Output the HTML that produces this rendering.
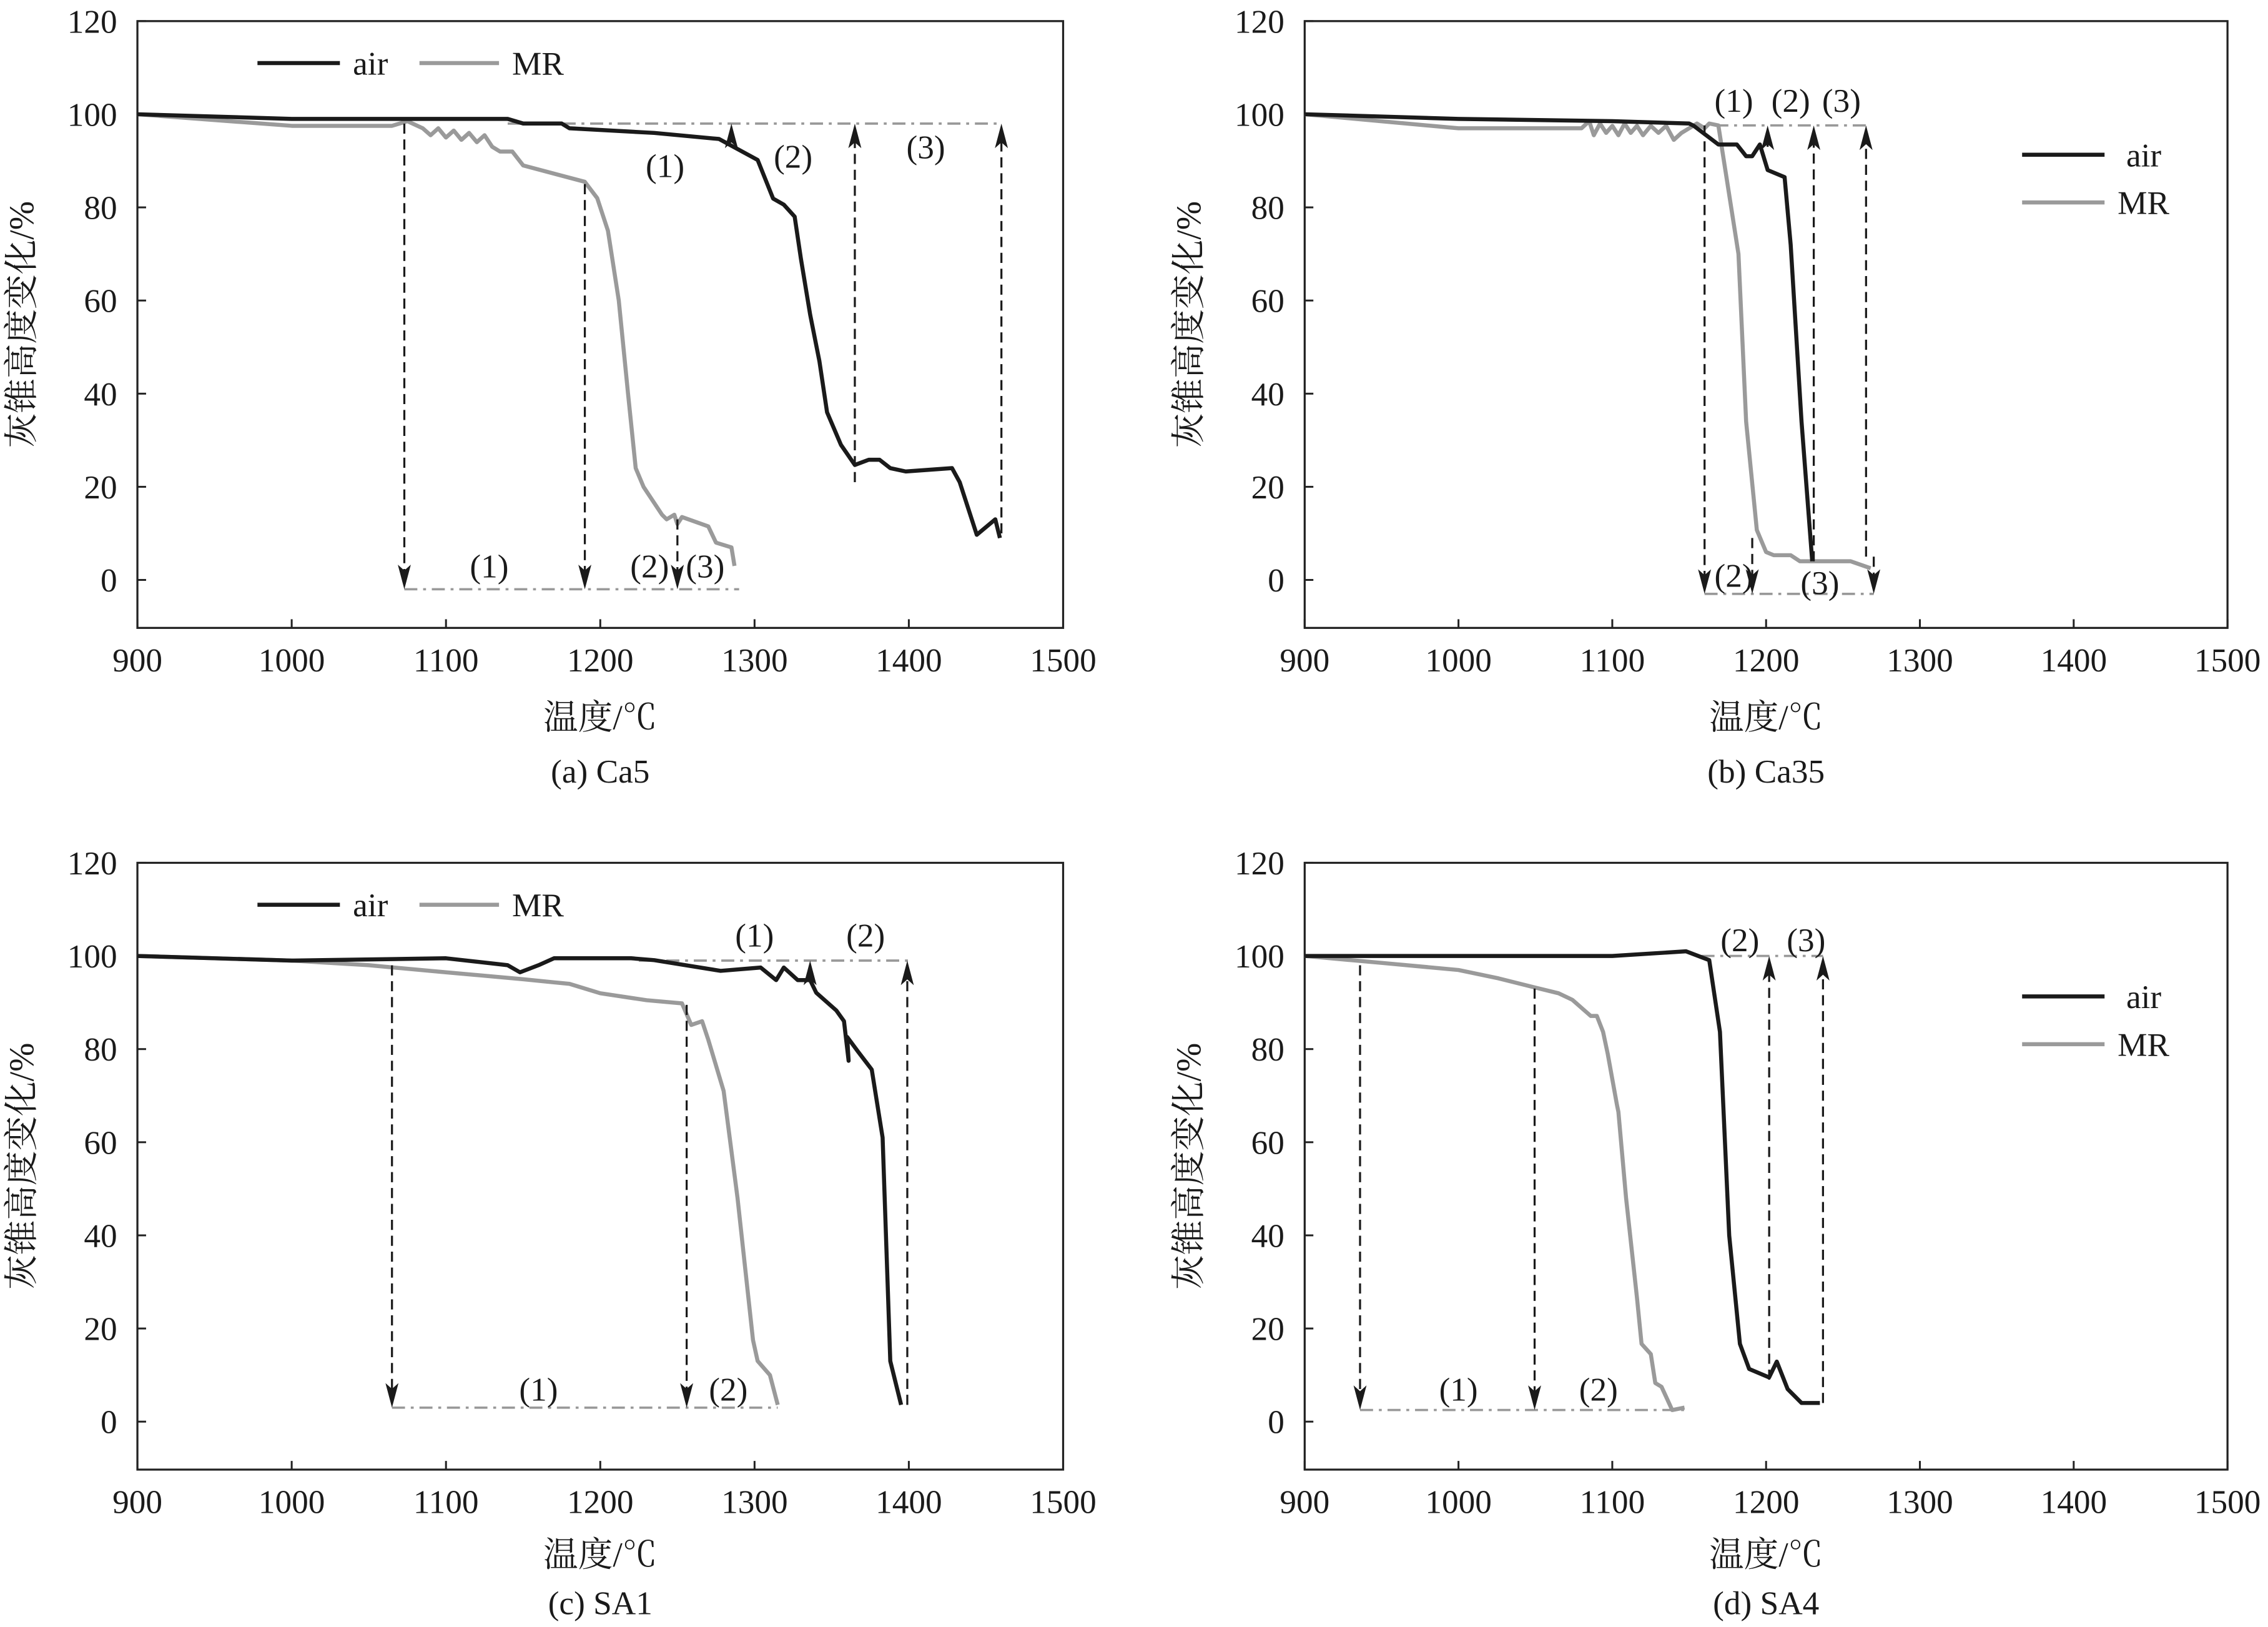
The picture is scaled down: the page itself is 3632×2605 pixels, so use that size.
<!DOCTYPE html>
<html><head><meta charset="utf-8"><style>
html,body{margin:0;padding:0;background:#fff;}
svg{display:block;}
text{font-family:"Liberation Serif","Noto Serif CJK SC","Noto Sans CJK SC",serif;fill:#1a1a1a;}
</style></head><body>
<svg id="fig" xmlns="http://www.w3.org/2000/svg" width="3632" height="2605" viewBox="0 0 1568 1125" preserveAspectRatio="none"></svg>
<script>
// ---- data (°C, % change) ----
const xTicks=[900,1000,1100,1200,1300,1400,1500];
const yTicks=[0,20,40,60,80,100,120];
// (a) Ca5
const aAirT=[900,1000,1140,1150,1175,1180,1235,1277,1302,1312,1319,1326,1330,1336,1342,1347,1356,1365,1374,1381,1388,1398,1428,1433,1444,1456,1459];
const aAirV=[100,99,99,98,98,97,96,94.7,90.2,81.9,80.6,78,69,57,47,36,29,24.7,25.8,25.8,24,23.3,24,21,9.7,13,9];
const aMrT=[900,1000,1065,1075,1085,1090,1095,1100,1105,1110,1115,1120,1125,1130,1135,1143,1150,1190,1198,1205,1212,1218,1223,1228,1240,1243,1248,1250,1253,1270,1275,1285,1287];
const aMrV=[100,97.5,97.5,98.5,97,95.5,97,95,96.5,94.5,96,94,95.5,93,92,92,89,85.5,82,75,60,40,24,20,14,13,14,12,13.5,11.5,8,7,3];
// (b) Ca35
const bAirT=[900,1000,1100,1150,1153,1169,1181,1187,1191,1196,1201,1212,1216,1223,1230];
const bAirV=[100,99,98.5,98,97.5,93.5,93.5,91,91,93.5,88,86.5,72,34,4];
const bMrT=[900,1000,1080,1085,1088,1092,1096,1100,1104,1108,1112,1116,1120,1125,1130,1135,1140,1145,1150,1155,1160,1163,1169,1182,1187,1194,1200,1205,1216,1222,1255,1268];
const bMrV=[100,97,97,98.5,95.5,98,96,97.5,95.5,98,96,97.5,95.5,97.5,96,97.5,94.5,96,97,98,97,98,97.6,70,34,10.7,6,5.3,5.3,4,4,2.5];
// (c) SA1
const cAirT=[900,1000,1100,1140,1148,1160,1170,1220,1235,1278,1304,1314,1319,1328,1336,1340,1353,1358,1361,1360,1367,1376,1383,1388,1395];
const cAirV=[100,99,99.5,98,96.5,98,99.5,99.5,99.1,96.8,97.5,94.8,97.5,94.8,94.8,92.1,88.3,86,77.5,82.6,79.5,75.6,61,13,3.6];
const cMrT=[900,1000,1050,1100,1150,1180,1200,1230,1253,1259,1266,1270,1280,1289,1299,1302,1310,1315];
const cMrV=[100,99,98,96.5,95,94,92,90.5,89.8,85.2,86,82,71,48,17.5,13,10,3.6];
// (d) SA4
const dAirT=[900,1100,1148,1163,1170,1176,1183,1189,1202,1207,1214,1223,1235];
const dAirV=[100,100,101,99.1,83.7,40,16.7,11.3,9.5,12.9,7,4,4];
const dMrT=[900,950,1000,1026,1049,1065,1074,1086,1090,1094,1097,1103,1104,1109,1116,1119,1125,1128,1132,1139,1147];
const dMrV=[100,98.5,97,95.2,93.3,92,90.6,87.1,87.1,83.7,79,68,66.5,48,26.7,16.7,14.5,8.3,7.5,2.5,3];
// annotations: vertical arrows [T, fromV, toV]
const aArrows=[[1285,94,98],[1365,21,98],[1460,10,98],[1073,98,-2],[1190,85,-2],[1250,13,-2]];
const bArrows=[[1201,93,97.6],[1231,4,97.6],[1265,5,97.6],[1160,97.6,-3],[1191,9,-3],[1270,5,-3]];
const cArrows=[[1336,95,99],[1399,3.6,99],[1065,98,3],[1256,89.5,3]];
const dArrows=[[1202,9,100],[1237,4,100],[936,98,2.5],[1049.5,93,2.5]];
// horizontal reference lines [T1,T2,V]
const aHLines=[[1140,1460,98],[1073,1290,-2]];
const bHLines=[[1167,1267,97.6],[1160,1270,-3]];
const cHLines=[[1225,1400,99],[1065,1315,3]];
const dHLines=[[1158,1237,100],[936,1147,2.5]];
// labels [text,T,V]
const aLabels=[["(1)",1242,89],["(2)",1325,91],["(3)",1411,93],["(1)",1128,3],["(2)",1232,3],["(3)",1268,3]];
const bLabels=[["(1)",1179,103],["(2)",1216,103],["(3)",1249,103],["(2)",1179,1],["(3)",1235,-0.5]];
const cLabels=[["(1)",1300,104.5],["(2)",1372,104.5],["(1)",1160,7],["(2)",1283,7]];
const dLabels=[["(2)",1183,103.5],["(3)",1226,103.5],["(1)",1000,7],["(2)",1091,7]];

const NS="http://www.w3.org/2000/svg";
const svg=document.getElementById('fig');
function mk(tag,attrs,parent,txt){const e=document.createElementNS(NS,tag);for(const k in attrs)e.setAttribute(k,attrs[k]);if(txt!==undefined)e.textContent=txt;(parent||svg).appendChild(e);return e;}

const panels=[
 {id:'a',L:95,R:735,y0:401,cap:'(a) Ca5',air:[aAirT,aAirV],mr:[aMrT,aMrV],arr:aArrows,hl:aHLines,lab:aLabels,leg:'top',tOff:70,cOff:107},
 {id:'b',L:902,R:1540,y0:401,cap:'(b) Ca35',air:[bAirT,bAirV],mr:[bMrT,bMrV],arr:bArrows,hl:bHLines,lab:bLabels,leg:'right',legY:[107,140],tOff:70,cOff:107},
 {id:'c',L:95,R:735,y0:983,cap:'(c) SA1',air:[cAirT,cAirV],mr:[cMrT,cMrV],arr:cArrows,hl:cHLines,lab:cLabels,leg:'top',tOff:67,cOff:100},
 {id:'d',L:902,R:1540,y0:983,cap:'(d) SA4',air:[dAirT,dAirV],mr:[dMrT,dMrV],arr:dArrows,hl:dHLines,lab:dLabels,leg:'right',legY:[689,722],tOff:67,cOff:100}
];
const PU=3.22;
panels.forEach(p=>{
  const g=mk('g',{});
  
  
  const xs=t=>p.L+(t-900)*(p.R-p.L)/600;
  const ys=v=>p.y0-v*PU;
  const top=ys(120), bot=ys(-10.3);
  const box=mk('rect',{x:p.L,y:top,width:p.R-p.L,height:bot-top,fill:'none',stroke:'#222','stroke-width':1.4},g);
  
  
  xTicks.forEach(t=>{
    mk('line',{x1:xs(t),x2:xs(t),y1:bot,y2:bot-6,stroke:'#222','stroke-width':1.3},g);
    const tx=mk('text',{x:xs(t),y:bot+30,'text-anchor':'middle','font-size':23},g,String(t));
    
    
  });
  yTicks.forEach(v=>{
    mk('line',{x1:p.L,x2:p.L+6,y1:ys(v),y2:ys(v),stroke:'#222','stroke-width':1.3},g);
    const tx=mk('text',{x:p.L-14,y:ys(v)+8,'text-anchor':'end','font-size':23},g,String(v));
    
    
  });
  const cx=(p.L+p.R)/2;
  const xt=mk('text',{x:cx,y:bot+p.tOff,'text-anchor':'middle','font-size':24},g,'温度/℃');
  
  
  const cp=mk('text',{x:cx,y:bot+p.cOff,'text-anchor':'middle','font-size':23},g,p.cap);
  
  
  const ycx=p.L-72, ycy=(top+bot)/2;
  const yt=mk('text',{x:ycx,y:ycy,'text-anchor':'middle','font-size':24,transform:`rotate(-90 ${ycx} ${ycy})`},g,'灰锥高度变化/%');
  
  
  p.hl.forEach(h=>{
    const l=mk('line',{x1:xs(h[0]),x2:xs(h[1]),y1:ys(h[2]),y2:ys(h[2]),stroke:'#999','stroke-width':1.6,'stroke-dasharray':'9 4 2 4'},g);
    
    
  });
  const curve=(d,col,name)=>{
    const pts=d[0].map((t,i)=>xs(t).toFixed(1)+','+ys(d[1][i]).toFixed(1)).join(' ');
    const pl=mk('polyline',{points:pts,fill:'none',stroke:col,'stroke-width':2.8,'stroke-linejoin':'round'},g);
    
    
  };
  curve(p.mr,'#9a9a9a','mr-curve');
  curve(p.air,'#1a1a1a','air-curve');
  p.arr.forEach(a=>{
    const x=xs(a[0]),y1=ys(a[1]),y2=ys(a[2]);
    const dir=y2<y1?1:-1;
    const l=mk('line',{x1:x,x2:x,y1:y1,y2:y2+dir*10,stroke:'#1a1a1a','stroke-width':1.4,'stroke-dasharray':'7 4'},g);
    
    
    mk('path',{d:`M${x},${y2} L${x-4.5},${y2+dir*17} L${x},${y2+dir*13} L${x+4.5},${y2+dir*17} Z`,fill:'#1a1a1a'},g);
  });
  p.lab.forEach(lb=>{
    const t=mk('text',{x:xs(lb[1]),y:ys(lb[2])+8,'text-anchor':'middle','font-size':23},g,lb[0]);
    
    
  });
  if(p.leg==='top'){
    const ly=top+29;
    const e1=mk('g',{},g);
    
    
    mk('line',{x1:p.L+83,x2:p.L+140,y1:ly,y2:ly,stroke:'#1a1a1a','stroke-width':2.8},e1);
    mk('text',{x:p.L+149,y:ly+8,'font-size':23},e1,'air');
    const e2=mk('g',{},g);
    
    
    mk('line',{x1:p.L+195,x2:p.L+250,y1:ly,y2:ly,stroke:'#9a9a9a','stroke-width':2.8},e2);
    mk('text',{x:p.L+259,y:ly+8,'font-size':23},e2,'MR');
  } else {
    const e1=mk('g',{},g);
    
    
    mk('line',{x1:p.L+496,x2:p.L+553,y1:p.legY[0],y2:p.legY[0],stroke:'#1a1a1a','stroke-width':2.8},e1);
    mk('text',{x:p.L+568,y:p.legY[0]+8,'font-size':23},e1,'air');
    const e2=mk('g',{},g);
    
    
    mk('line',{x1:p.L+496,x2:p.L+553,y1:p.legY[1],y2:p.legY[1],stroke:'#9a9a9a','stroke-width':2.8},e2);
    mk('text',{x:p.L+562,y:p.legY[1]+8,'font-size':23},e2,'MR');
  }
});
</script>
</body></html>
